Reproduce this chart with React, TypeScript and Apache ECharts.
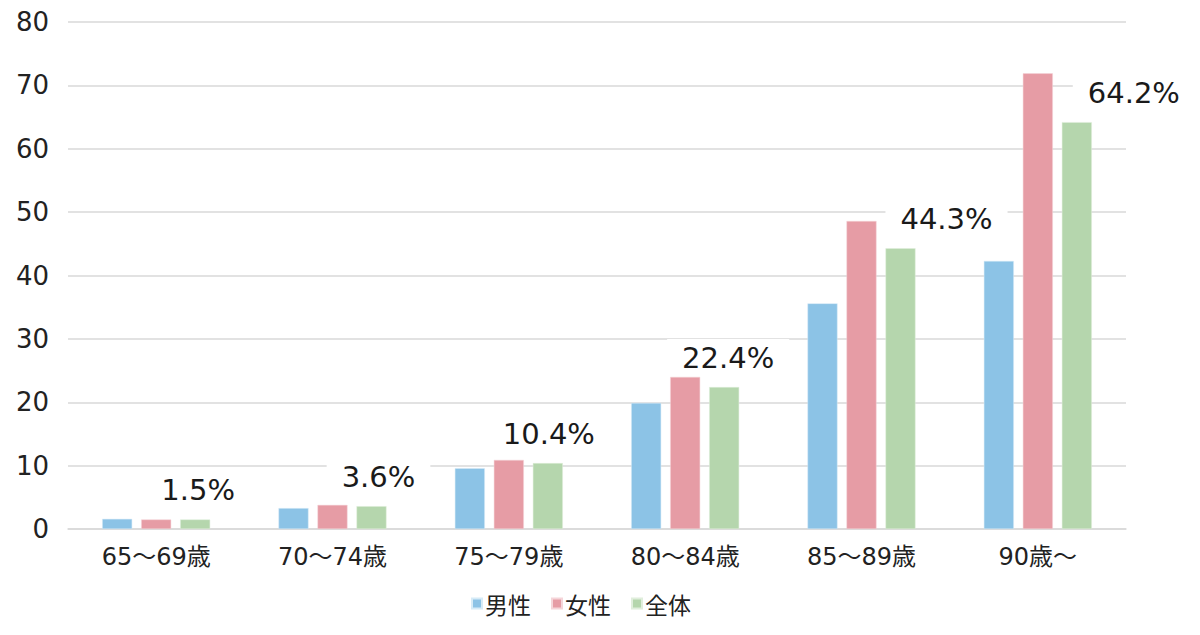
import React, { useEffect, useRef } from "react";
import * as echarts from "echarts";

const categories = ["65～69歳", "70～74歳", "75～79歳", "80～84歳", "85～89歳", "90歳～"];
const male = [1.6, 3.3, 9.6, 19.9, 35.6, 42.3];
const female = [1.5, 3.8, 10.9, 24.0, 48.6, 71.9];
const total = [1.5, 3.6, 10.4, 22.4, 44.3, 64.2];
const seriesNames = ["男性", "女性", "全体"];
const yTicks = { min: 0, max: 80, interval: 10 };

const FONT = "'DejaVu Sans', 'Noto Sans CJK JP', sans-serif";
const CJK = "'Noto Sans CJK JP', sans-serif";

export default function App() {
  const ref = useRef<HTMLDivElement>(null);
  useEffect(() => {
    if (!ref.current) return;
    const chart = echarts.init(ref.current, undefined, { renderer: "svg" });
    const labelShift = [3, 7, 1, 4, 46, 57];
    const totalData = total.map((v, i) => ({
      value: v,
      label: { offset: [labelShift[i], 0] },
    }));
    chart.setOption({
      animation: false,
      textStyle: { fontFamily: FONT },
      grid: { left: 60, right: 66, top: 14, bottom: 98, containLabel: false },
      legend: {
        bottom: 7,
        left: 458,
        itemWidth: 10,
        itemHeight: 10,
        itemGap: 20,
        icon: "rect",
        textStyle: { fontSize: 23, color: "#222", fontFamily: CJK, padding: [0, 0, 0, -2] },
        data: seriesNames,
      },
      xAxis: {
        type: "category",
        data: categories,
        axisTick: { show: false },
        axisLine: { lineStyle: { color: "#d9d9d9", width: 1.5 } },
        axisLabel: { fontSize: 24, color: "#222", margin: 16, fontFamily: FONT },
      },
      yAxis: {
        type: "value",
        min: yTicks.min,
        max: yTicks.max,
        interval: yTicks.interval,
        axisLine: { show: false },
        axisTick: { show: false },
        splitLine: { lineStyle: { color: "#d9d9d9", width: 1.5 } },
        axisLabel: { fontSize: 26, color: "#222", margin: 19, fontFamily: FONT },
      },
      series: [
        {
          name: seriesNames[0],
          type: "bar",
          data: male,
          barWidth: 30,
          barGap: "30%",
          itemStyle: { color: "#8cc3e6", borderColor: "#d6ebf7", borderWidth: 0.5 },
        },
        {
          name: seriesNames[1],
          type: "bar",
          data: female,
          barWidth: 30,
          barGap: "30%",
          itemStyle: { color: "#e69ca5", borderColor: "#f5d5d9", borderWidth: 0.5 },
        },
        {
          name: seriesNames[2],
          type: "bar",
          data: totalData,
          barWidth: 30,
          barGap: "30%",
          itemStyle: { color: "#b5d6ad", borderColor: "#e0eedc", borderWidth: 0.5 },
          label: {
            show: true,
            position: "top",
            distance: 15,
            formatter: (p: any) => p.value.toFixed(1) + "%",
            fontSize: 29,
            color: "#1a1a1a",
            fontFamily: FONT,
            backgroundColor: "#ffffff",
            padding: [4, 15, 0, 15],
          },
        },
      ],
    });
    return () => chart.dispose();
  }, []);
  return <div ref={ref} style={{ width: 1184, height: 619 }} />;
}
